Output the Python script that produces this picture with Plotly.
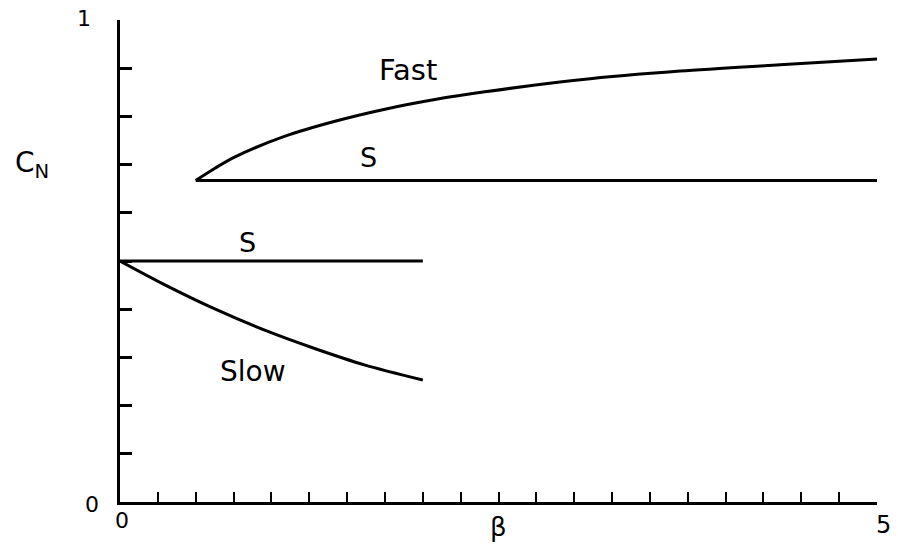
import plotly.graph_objects as go

# Branch curves of C_N versus beta
fast_beta = [0.5, 0.63, 0.76, 1.09, 1.42, 1.75, 2.08, 2.41, 3.04, 3.70, 4.36, 5.0]
fast_cn = [0.667, 0.693, 0.716, 0.759, 0.790, 0.815, 0.835, 0.851, 0.876, 0.894, 0.907, 0.919]

s_upper_beta = [0.5, 5.0]
s_upper_cn = [0.667, 0.667]

s_lower_beta = [0.0, 2.0]
s_lower_cn = [0.5, 0.5]

slow_beta = [0.0, 0.30, 0.63, 0.96, 1.29, 1.62, 2.0]
slow_cn = [0.5, 0.450, 0.400, 0.356, 0.318, 0.284, 0.253]

FONT = "DejaVu Sans"
INK = "black"

fig = go.Figure()
for xs, ys in [(fast_beta, fast_cn), (s_upper_beta, s_upper_cn),
               (s_lower_beta, s_lower_cn), (slow_beta, slow_cn)]:
    fig.add_trace(go.Scatter(x=xs, y=ys, mode="lines",
                             line=dict(color=INK, width=3, shape="spline", smoothing=0.8),
                             cliponaxis=False, showlegend=False, hoverinfo="skip"))

labels = [
    ("Fast", 1.90, 0.896, 29),
    ("S", 1.64, 0.714, 27),
    ("S", 0.84, 0.539, 27),
    ("Slow", 0.88, 0.270, 28),
]
for text, x, y, size in labels:
    fig.add_annotation(x=x, y=y, text=text, showarrow=False, xref="x", yref="y",
                       font=dict(family=FONT, size=size, color=INK))

# Axis end labels, offset from the axis corners
axis_labels = [
    ("1", 0.0, 1.0, -36, 2, 22),
    ("0", 0.0, 0.0, -28, -2, 22),
    ("0", 0.0, 0.0, 2, -18, 22),
    ("β", 2.5, 0.0, 0, -25, 26),
    ("5", 5.0, 0.0, 6, -23, 24),
]
for text, x, y, dx, dy, size in axis_labels:
    fig.add_annotation(x=x, y=y, text=text, showarrow=False, xref="x", yref="y",
                       xshift=dx, yshift=dy, font=dict(family=FONT, size=size, color=INK))

fig.add_annotation(x=0, y=0.70, xref="x", yref="y", text="C<sub>N</sub>", showarrow=False,
                   xshift=-88, font=dict(family=FONT, size=28, color=INK))

fig.update_xaxes(range=[0, 5], showgrid=False, zeroline=False, showline=True, linecolor=INK,
                 linewidth=3, ticks="inside", tick0=0, dtick=0.25, ticklen=10, tickwidth=1.5,
                 tickcolor=INK, showticklabels=False)
fig.update_yaxes(range=[0, 1], showgrid=False, zeroline=False, showline=True, linecolor=INK,
                 linewidth=2.5, ticks="inside", tick0=0, dtick=0.1, ticklen=12, tickwidth=3,
                 tickcolor=INK, showticklabels=False)

fig.update_layout(width=898, height=546, margin=dict(l=120, r=21, t=20, b=44),
                  plot_bgcolor="white", paper_bgcolor="white")

fig.write_html("out.html")
